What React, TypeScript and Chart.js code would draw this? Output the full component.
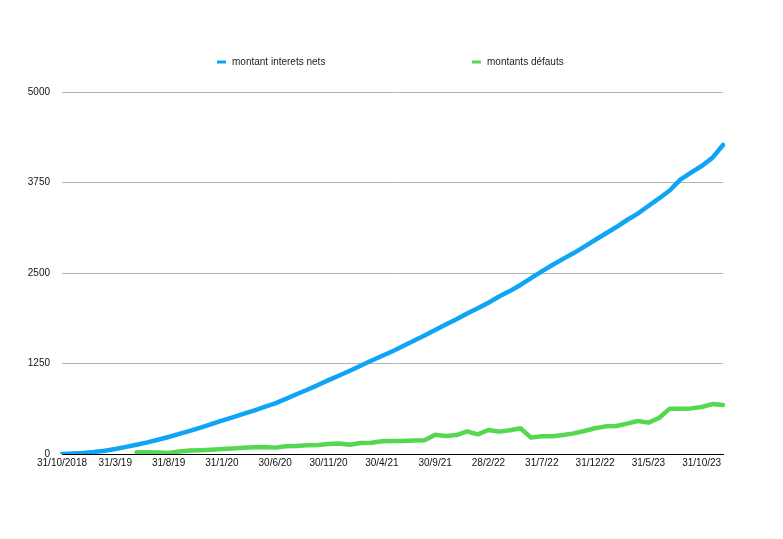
import React, { useEffect, useRef } from "react";
import { Chart, registerables } from "chart.js";

Chart.register(...registerables);

const categories: string[] = [
  "31/10/2018", "30/11/18", "31/12/18", "31/1/19", "28/2/19", "31/3/19", "30/4/19", "31/5/19", "30/6/19", "31/7/19",
  "31/8/19", "30/9/19", "31/10/19", "30/11/19", "31/12/19", "31/1/20", "29/2/20", "31/3/20", "30/4/20", "31/5/20",
  "30/6/20", "31/7/20", "31/8/20", "30/9/20", "31/10/20", "30/11/20", "31/12/20", "31/1/21", "28/2/21", "31/3/21",
  "30/4/21", "31/5/21", "30/6/21", "31/7/21", "31/8/21", "30/9/21", "31/10/21", "30/11/21", "31/12/21", "31/1/22",
  "28/2/22", "31/3/22", "30/4/22", "31/5/22", "30/6/22", "31/7/22", "31/8/22", "30/9/22", "31/10/22", "30/11/22",
  "31/12/22", "31/1/23", "28/2/23", "31/3/23", "30/4/23", "31/5/23", "30/6/23", "31/7/23", "31/8/23", "30/9/23",
  "31/10/23", "30/11/23", "31/12/23",
];

const interetsNets: number[] = [
  0, 6, 15, 28, 46, 70, 98, 128, 160, 196,
  235, 277, 320, 365, 412, 460, 506, 553, 600, 650,
  700, 762, 825, 888, 952, 1020, 1085, 1150, 1218, 1288,
  1353, 1420, 1492, 1565, 1636, 1713, 1790, 1862, 1940, 2012,
  2090, 2175, 2250, 2335, 2428, 2522, 2610, 2695, 2775, 2865,
  2956, 3045, 3135, 3232, 3320, 3425, 3530, 3640, 3790, 3885,
  3978, 4090, 4268,
];

const defauts: (number | null)[] = [
  null, null, null, null, null, null, null, 25, 25, 20,
  15, 35, 48, 53, 60, 68, 75, 85, 92, 97,
  88, 106, 112, 120, 125, 138, 145, 128, 152, 155,
  175, 180, 180, 186, 190, 265, 249, 262, 313, 272,
  332, 309, 327, 355, 226, 244, 244, 262, 285, 318,
  355, 382, 387, 419, 456, 433, 497, 626, 626, 630,
  649, 690, 677,
];

const yTicks: number[] = [0, 1250, 2500, 3750, 5000];

const seriesNames: string[] = ["montant interets nets", "montants défauts"];
const seriesColors: string[] = ["#0ea5f6", "#55d752"];

const FONT = "'Liberation Sans', Arial, sans-serif";

const legendPlugin = {
  id: "customLegend",
  afterDraw(chart: any) {
    const ctx = chart.ctx as CanvasRenderingContext2D;
    const positions = [217, 472];
    ctx.save();
    ctx.font = `10px ${FONT}`;
    ctx.textBaseline = "middle";
    ctx.textAlign = "left";
    chart.data.datasets.forEach((ds: any, i: number) => {
      const x = positions[i];
      const y = 62;
      ctx.fillStyle = ds.borderColor;
      ctx.fillRect(x, y - 1.5, 9, 3);
      ctx.fillStyle = "#222";
      ctx.fillText(ds.label, x + 15, y);
    });
    ctx.restore();
  },
};

export default function App() {
  const ref = useRef<HTMLCanvasElement | null>(null);

  useEffect(() => {
    if (!ref.current) return;
    const chart = new Chart(ref.current, {
      type: "line",
      data: {
        labels: categories,
        datasets: [
          {
            label: seriesNames[0],
            data: interetsNets,
            borderColor: seriesColors[0],
            backgroundColor: seriesColors[0],
            borderWidth: 4.5,
            borderJoinStyle: "round",
            borderCapStyle: "round",
            pointRadius: 0,
            tension: 0,
          },
          {
            label: seriesNames[1],
            data: defauts,
            borderColor: seriesColors[1],
            backgroundColor: seriesColors[1],
            borderWidth: 4.5,
            borderJoinStyle: "round",
            borderCapStyle: "round",
            pointRadius: 0,
            tension: 0,
            spanGaps: false,
          },
        ],
      },
      options: {
        animation: false,
        responsive: false,
        maintainAspectRatio: false,
        layout: { padding: { top: 92, right: 60, left: 0, bottom: 0 } },
        plugins: {
          legend: { display: false },
          tooltip: { enabled: false },
        },
        scales: {
          x: {
            type: "category",
            offset: false,
            grid: { display: false, drawTicks: false },
            border: { display: true, color: "#000", width: 1 },
            ticks: {
              autoSkip: false,
              maxRotation: 0,
              minRotation: 0,
              padding: 3,
              color: "#111",
              font: { family: FONT, size: 10 },
              callback: (_v: any, i: number) => (i % 5 === 0 ? categories[i] : ""),
            },
            afterFit: (scale: any) => {
              scale.height = 85;
            },
          },
          y: {
            min: 0,
            max: 5000,
            afterBuildTicks: (scale: any) => {
              scale.ticks = yTicks.map((v) => ({ value: v }));
            },
            grid: {
              drawTicks: false,
              color: (c: any) => (c.tick && c.tick.value === 0 ? "#000" : "#b4b4b4"),
              lineWidth: 1,
            },
            border: { display: false },
            ticks: {
              padding: 12,
              color: "#111",
              font: { family: FONT, size: 10 },
              callback: (v: any) => String(v),
            },
            afterFit: (scale: any) => {
              scale.width = 62;
            },
          },
        },
      },
      plugins: [legendPlugin],
    });
    return () => chart.destroy();
  }, []);

  return (
    <div style={{ position: "fixed", left: 0, top: 0, width: 783, height: 539, background: "#fff" }}>
      <canvas ref={ref} width={783} height={539} style={{ width: 783, height: 539 }} />
    </div>
  );
}
